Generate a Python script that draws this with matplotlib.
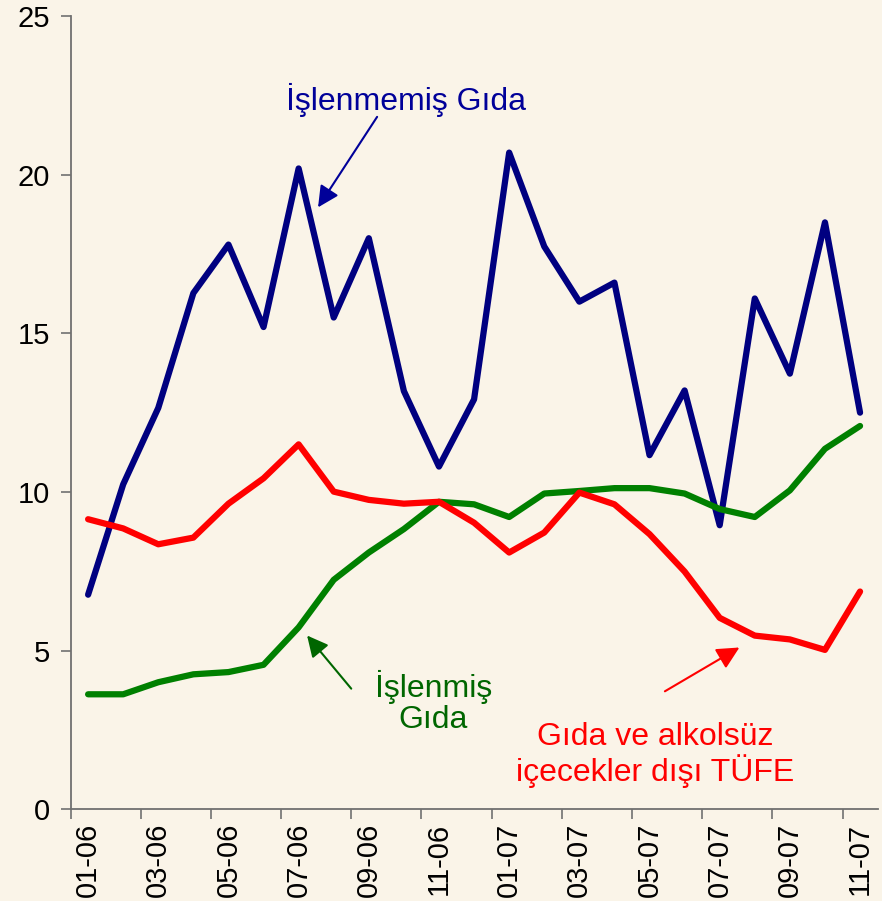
import numpy as np
import matplotlib
matplotlib.use("Agg")
import matplotlib.pyplot as plt

plt.rcParams['font.family'] = ['Liberation Sans', 'DejaVu Sans']

# monthly labels, 01-06 .. 11-07
months = ['01-06', '02-06', '03-06', '04-06', '05-06', '06-06', '07-06', '08-06',
          '09-06', '10-06', '11-06', '12-06', '01-07', '02-07', '03-07', '04-07',
          '05-07', '06-07', '07-07', '08-07', '09-07', '10-07', '11-07']

# İşlenmemiş Gıda (unprocessed food)
islenmemis = [6.76, 10.24, 12.65, 16.27, 17.8, 15.2, 20.2, 15.5, 18.0, 13.18, 10.8, 12.92,
              20.7, 17.74, 16.0, 16.6, 11.16, 13.2, 8.95, 16.1, 13.73, 18.5, 12.5]
# İşlenmiş Gıda (processed food)
islenmis = [3.62, 3.62, 4.0, 4.25, 4.32, 4.55, 5.73, 7.23, 8.09, 8.83, 9.69, 9.61,
            9.21, 9.95, 10.03, 10.12, 10.12, 9.95, 9.46, 9.21, 10.05, 11.36, 12.08]
# Gıda ve alkolsüz içecekler dışı TÜFE
tufe = [9.14, 8.85, 8.35, 8.56, 9.63, 10.43, 11.5, 10.01, 9.75, 9.63, 9.69, 9.03,
        8.09, 8.72, 9.98, 9.61, 8.67, 7.49, 6.03, 5.47, 5.35, 5.02, 6.86]

bg = '#FAF4E8'
x = np.arange(len(months))

fig = plt.figure(figsize=(8.82, 9.01), dpi=100, facecolor=bg)
ax = fig.add_axes([0.080, 0.102, 0.915, 0.880])
ax.set_facecolor(bg)

lw = 4.5
ax.plot(x, islenmemis, color='#000080', lw=lw, solid_joinstyle='round', solid_capstyle='round')
ax.plot(x, islenmis, color='#008000', lw=lw, solid_joinstyle='round', solid_capstyle='round')
ax.plot(x, tufe, color='#FF0000', lw=lw, solid_joinstyle='round', solid_capstyle='round')

ax.set_xlim(-0.5, len(months) - 0.5)
ax.set_ylim(0, 25)
ax.set_yticks([0, 5, 10, 15, 20, 25])

# tick marks between categories, labels on every other month
ax.set_xticks(np.arange(-0.5, len(months) - 1, 2))
ax.set_xticklabels([])
ax.set_xticks(x[::2], minor=True)
ax.set_xticklabels(months[::2], minor=True, rotation=90, fontsize=21)
ax.tick_params(axis='x', which='major', length=7, width=1.2, color='#707070', direction='out')
ax.tick_params(axis='x', which='minor', length=0, pad=10)
ax.tick_params(axis='y', length=7, width=1.2, color='#707070', labelsize=21, pad=8)

for s in ['top', 'right']:
    ax.spines[s].set_visible(False)
for s in ['left', 'bottom']:
    ax.spines[s].set_color('#707070')
    ax.spines[s].set_linewidth(1.3)

# annotations
ax.text(9.07, 22.35, 'İşlenmemiş Gıda', color='#000099', fontsize=23, ha='center', va='center')
ax.annotate('', xy=(6.51, 18.9), xytext=(8.28, 21.9),
            arrowprops=dict(arrowstyle='-|>', color='#000099', lw=1.5, mutation_scale=32))

ax.text(9.84, 3.37, 'İşlenmiş\nGıda', color='#006600', fontsize=23, ha='center', va='center',
        linespacing=1.05)
ax.annotate('', xy=(6.19, 5.54), xytext=(7.55, 3.73),
            arrowprops=dict(arrowstyle='-|>', color='#006600', lw=1.5, mutation_scale=32))

ax.text(16.17, 1.70, 'Gıda ve alkolsüz\niçecekler dışı TÜFE', color='#FF0000', fontsize=23,
        ha='center', va='center', linespacing=1.1)
ax.annotate('', xy=(18.63, 5.14), xytext=(16.37, 3.67),
            arrowprops=dict(arrowstyle='-|>', color='#FF0000', lw=1.5, mutation_scale=34))

fig.savefig('out.png', dpi=100, facecolor=bg)
